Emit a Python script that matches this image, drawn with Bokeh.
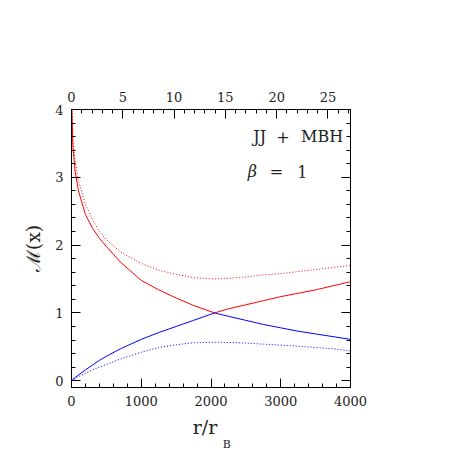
from bokeh.plotting import figure
from bokeh.models import (Range1d, LinearAxis, SingleIntervalTicker, Label,
                          CustomJSTickFormatter, FixedTicker)
from bokeh.embed import file_html
from bokeh.resources import INLINE

# ---- data ----
x = [0, 20, 50, 100, 200, 300, 400, 500, 700, 1000, 1250, 1500, 1750, 2050,
     2250, 2500, 2750, 3000, 3250, 3500, 3750, 4000]
red_solid = [4.2, 3.45, 3.1, 2.8, 2.45, 2.25, 2.1, 1.98, 1.75, 1.48, 1.34, 1.22,
             1.11, 1.0, 1.06, 1.12, 1.18, 1.24, 1.29, 1.34, 1.40, 1.46]
red_dotted = [4.3, 3.55, 3.25, 2.95, 2.6, 2.38, 2.2, 2.08, 1.9, 1.73, 1.63, 1.57,
              1.52, 1.50, 1.51, 1.53, 1.56, 1.58, 1.61, 1.64, 1.67, 1.70]
blue_solid = [0.0, 0.02, 0.045, 0.085, 0.16, 0.23, 0.30, 0.36, 0.47, 0.61, 0.71,
              0.80, 0.89, 1.0, 0.95, 0.89, 0.83, 0.78, 0.73, 0.69, 0.65, 0.61]
blue_dotted = [0.0, 0.012, 0.03, 0.06, 0.11, 0.16, 0.20, 0.24, 0.32, 0.42, 0.49,
               0.53, 0.56, 0.567, 0.565, 0.555, 0.54, 0.525, 0.51, 0.49, 0.47, 0.44]

x_range = (0, 4000)
y_range = (-0.1, 4.0)
top_range = (0, 27.2)

FONT = "DejaVu Serif"
RED = "#ff0000"
BLUE = "#0000ff"
TXT = "#222222"
NB = "\u00a0"

p = figure(frame_width=279, frame_height=278, output_backend="svg",
           toolbar_location=None, x_range=Range1d(*x_range),
           y_range=Range1d(*y_range), x_axis_location=None,
           y_axis_location=None)
p.min_border_left = 71
p.min_border_right = 99
p.min_border_top = 109
p.min_border_bottom = 40
p.background_fill_color = "white"
p.border_fill_color = "white"
p.outline_line_color = "black"
p.xgrid.visible = False
p.ygrid.visible = False
p.extra_x_ranges = {"top": Range1d(*top_range)}


def style(ax, show_labels=True):
    ax.axis_line_color = "black"
    ax.axis_line_width = 1
    ax.major_tick_in = 9
    ax.major_tick_out = 0
    ax.minor_tick_in = 4
    ax.minor_tick_out = 0
    ax.major_tick_line_color = "black"
    ax.minor_tick_line_color = "black"
    ax.major_label_text_font = FONT
    ax.major_label_text_font_size = "13px"
    ax.major_label_text_color = TXT
    ax.major_label_standoff = 8
    if not show_labels:
        ax.formatter = CustomJSTickFormatter(code="return ''")


bottom = LinearAxis(ticker=SingleIntervalTicker(interval=1000, num_minor_ticks=5))
style(bottom)
p.add_layout(bottom, "below")


def label_axis(text, size, standoff):
    ax = LinearAxis(ticker=FixedTicker(ticks=[]))
    ax.axis_line_color = None
    ax.major_tick_line_color = None
    ax.minor_tick_line_color = None
    ax.major_label_standoff = 0
    ax.axis_label = text
    ax.axis_label_text_font = FONT
    ax.axis_label_text_font_style = "normal"
    ax.axis_label_text_font_size = size
    ax.axis_label_text_color = TXT
    ax.axis_label_standoff = standoff
    p.add_layout(ax, "below")


# x-axis title r/r_B (main part, then subscript shifted right)
label_axis("r/r" + NB * 2, "19px", 7)
label_axis(NB * 9 + "B", "11px", -3)

top = LinearAxis(x_range_name="top",
                 ticker=SingleIntervalTicker(interval=5, num_minor_ticks=5))
style(top)
p.add_layout(top, "above")

left = LinearAxis(ticker=SingleIntervalTicker(interval=1, num_minor_ticks=5))
style(left)
left.axis_label = "ℳ(x)"
left.axis_label_text_font = FONT
left.axis_label_text_font_style = "normal"
left.axis_label_text_font_size = "19px"
left.axis_label_text_color = TXT
left.axis_label_standoff = 8
p.add_layout(left, "left")

right = LinearAxis(ticker=SingleIntervalTicker(interval=1, num_minor_ticks=5))
style(right, show_labels=False)
p.add_layout(right, "right")

# curves
p.line(x, red_solid, line_color=RED, line_width=1)
p.line(x, red_dotted, line_color=RED, line_width=1, line_dash="1 2")
p.line(x, blue_solid, line_color=BLUE, line_width=1)
p.line(x, blue_dotted, line_color=BLUE, line_width=1, line_dash="1 2")

# annotations
ann = dict(text_baseline="middle", text_font=FONT, text_font_size="16px",
           text_color=TXT)
p.add_layout(Label(x=2790, y=3.595, text="JJ", text_align="right", **ann))
p.add_layout(Label(x=3033, y=3.595, text="+", text_align="center", **ann))
p.add_layout(Label(x=3292, y=3.595, text="MBH", text_align="left", **ann))
p.add_layout(Label(x=2660, y=3.08, text="β", text_align="right",
                   text_font_style="italic", **ann))
p.add_layout(Label(x=2940, y=3.08, text="=", text_align="center", **ann))
p.add_layout(Label(x=3237, y=3.08, text="1", text_align="left", **ann))

open("out.html", "w").write(file_html(p, INLINE))
